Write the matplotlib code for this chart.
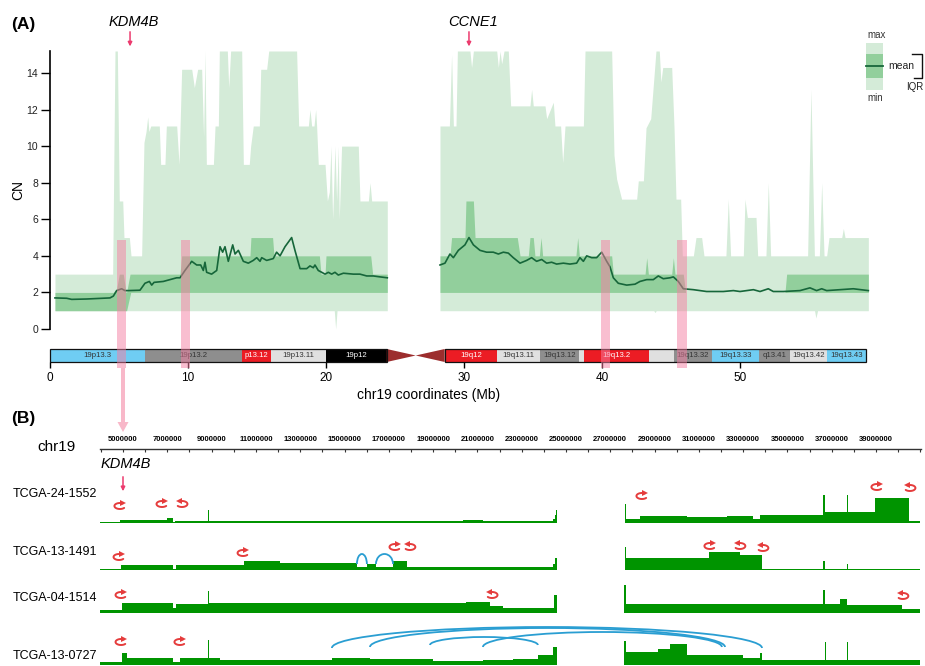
import numpy as np
import matplotlib
matplotlib.use('Agg')
import matplotlib.pyplot as plt
from matplotlib.patches import Rectangle, Polygon, Arc

plt.rcParams['font.family'] = ['Liberation Sans', 'DejaVu Sans']

# ---------------- Panel A data (Mb, CN) ----------------
MAXL_X = [0.36, 4.54, 4.71, 4.88, 5.02, 5.27, 5.36, 5.75, 5.87, 6.64, 6.81, 6.96, 7.08, 7.17, 7.30, 7.92, 8.02, 8.33, 8.43, 9.18,
          9.35, 9.54, 10.27, 10.46, 10.70, 10.99, 11.13, 11.23, 11.33, 11.84, 11.96, 12.20, 12.27, 12.85, 12.95, 13.09, 13.89, 14.01, 14.44, 14.54,
          14.73, 15.17, 15.27, 15.70, 15.85, 17.87, 18.02, 18.72, 18.84, 18.96, 19.13, 19.25, 19.32, 19.44, 19.93, 20.10, 20.24, 20.36, 20.48, 20.65,
          20.77, 20.89, 20.96, 21.13, 22.34, 22.46, 23.07, 23.19, 23.31, 24.44]
MAXL_Y = [3, 3, 15.2, 15.2, 7, 7, 5, 5, 4, 4, 10.2, 10.8, 11.6, 10.8, 11.1, 11.1, 9, 9, 11.1, 11.1,
          9, 14.2, 14.2, 13.2, 14.2, 14.2, 10.5, 15.2, 9, 9, 11.1, 11.1, 15.2, 15.2, 13.2, 15.2, 15.2, 9, 9, 10,
          11.1, 11.1, 14.2, 14.2, 15.2, 15.2, 11.1, 11.1, 12, 11.1, 11.1, 12, 11.1, 9, 9, 7, 7.5, 10, 6, 10,
          7, 10, 6, 10, 10, 7, 7, 8, 7, 7]
MINL_X = [0.36, 20.6, 20.7, 20.8, 24.44]
MINL_Y = [1, 1, 0, 1, 1]
Q3L_X = [0.36, 4.59, 4.83, 5.02, 5.31, 5.51, 5.55, 5.8, 9.42, 9.54, 14.49, 14.56, 16.13, 16.23, 19.52, 19.64, 19.93, 20.0, 23.24, 23.38, 24.44]
Q3L_Y = [2, 2, 2.2, 3, 3, 2, 2, 3, 3, 4, 4, 5, 5, 4, 4, 3, 3, 4, 4, 3, 3]
Q1L_X = [0.36, 5.55, 5.85, 24.44]
Q1L_Y = [1, 1, 2, 2]
MEANL_X = [0.36, 1.21, 1.57, 2.66, 4.35, 4.59, 4.83, 5.19, 5.43, 5.68, 6.52, 6.88, 7.2, 7.37, 7.54, 8.21, 9.18, 9.42, 9.78, 10.27,
           10.63, 10.92, 11.11, 11.23, 11.35, 11.71, 12.08, 12.32, 12.51, 12.68, 12.92, 13.24, 13.41, 13.65, 14.01, 14.37, 14.73, 14.98, 15.22, 15.34,
           15.7, 16.18, 16.42, 16.67, 17.03, 17.51, 17.75, 18.12, 18.6, 18.84, 19.08, 19.2, 19.44, 19.69, 19.93, 20.17, 20.41, 20.65, 20.89, 21.26,
           21.98, 22.46, 22.95, 23.43, 23.91, 24.44]
MEANL_Y = [1.7, 1.68, 1.62, 1.64, 1.7, 1.8, 2.1, 2.2, 2.1, 2.1, 2.12, 2.5, 2.6, 2.4, 2.55, 2.6, 2.8, 2.8, 3.2, 3.7,
           3.5, 3.5, 3.2, 3.65, 3.1, 3.0, 3.2, 4.5, 4.2, 4.5, 3.7, 4.6, 4.1, 4.3, 3.7, 3.6, 3.75, 3.9, 3.7, 3.9,
           3.75, 3.85, 4.2, 4.0, 4.5, 5.0, 4.3, 3.3, 3.3, 3.45, 3.35, 3.5, 3.2, 3.1, 3.0, 3.1, 3.0, 3.1, 2.95, 3.05,
           3.0, 3.0, 2.9, 2.9, 2.85, 2.8]

MAXR_X = [28.26, 28.94, 29.1, 29.23, 29.42, 29.52, 30.43, 30.55, 30.68, 32.37, 32.49, 32.61, 32.73, 32.9, 33.21, 33.38, 34.78, 34.9, 35.02, 35.87,
          35.99, 36.47, 36.59, 37.0, 37.15, 37.32, 38.65, 38.77, 40.7, 40.87, 41.06, 41.42, 42.51, 42.63, 43.0, 43.19, 43.53, 43.91, 44.15, 44.27,
          44.4, 45.05, 45.22, 45.36, 45.7, 45.82, 46.62, 46.81, 47.22, 47.39, 48.98, 49.15, 49.32, 50.24, 50.36, 50.53, 51.16, 51.28, 51.88, 52.05,
          52.22, 54.9, 55.14, 55.39, 55.75, 55.92, 56.09, 56.28, 56.45, 57.37, 57.49, 57.61, 59.3]
MAXR_Y = [11.1, 11.1, 15, 11.1, 11.1, 15.2, 15.2, 14.3, 15.2, 15.2, 14.3, 15.2, 14.5, 15.2, 15.2, 12.2, 12.2, 13.1, 12.2, 12.2,
          11.5, 12.4, 11.1, 11.1, 9.1, 11.1, 11.1, 15.2, 15.2, 9.5, 8.2, 7.1, 7.1, 8.1, 8.1, 11, 11.5, 15.2, 15.2, 13.5,
          14.3, 14.3, 11, 7.1, 7.1, 4, 4, 5, 5, 4, 4, 7.1, 4, 4, 7.1, 6.1, 6.1, 4, 4, 8,
          4, 4, 13.1, 4, 4, 8, 4, 4, 5, 5, 5.5, 5, 5]
MINR_X = [28.26, 43.75, 43.84, 43.93, 55.4, 55.5, 55.62, 59.3]
MINR_Y = [1, 1, 0.9, 1, 1, 0.6, 1, 1]
Q3R_X = [28.26, 28.98, 29.1, 30.07, 30.14, 30.68, 30.8, 33.86, 34.06, 34.66, 34.78, 35.02, 35.14, 35.46, 35.58, 35.7, 38.11, 38.24, 38.36, 40.7,
         40.82, 43.12, 43.24, 43.36, 45.05, 45.17, 45.29, 45.89, 46.06, 53.26, 53.38, 59.3]
Q3R_Y = [4, 4, 5, 5, 7, 7, 5, 5, 4, 4, 5, 5, 4, 4, 5, 4, 4, 5, 4, 4,
         3, 3, 3.9, 3, 3, 3.9, 3, 3, 2, 2, 3, 3]
Q1R_X = [28.26, 59.3]
Q1R_Y = [2, 2]
MEANR_X = [28.26, 28.62, 28.98, 29.23, 29.59, 30.07, 30.36, 30.68, 31.16, 31.64, 32.12, 32.49, 32.85, 33.21, 33.57, 34.06, 34.54, 34.9, 35.26, 35.63,
           35.99, 36.35, 36.71, 37.2, 37.68, 38.16, 38.4, 38.65, 38.89, 39.25, 39.61, 39.98, 40.34, 40.58, 40.82, 41.18, 41.79, 42.39, 42.75, 43.24,
           43.72, 44.08, 44.44, 44.93, 45.17, 45.53, 45.89, 46.62, 47.58, 48.79, 49.52, 50.0, 50.97, 51.45, 52.05, 52.41, 53.14, 54.35, 55.07, 55.55,
           55.92, 56.28, 57.25, 58.21, 59.3]
MEANR_Y = [3.5, 3.6, 4.1, 3.9, 4.3, 4.6, 5.0, 4.6, 4.3, 4.2, 4.2, 4.1, 4.2, 4.15, 3.9, 3.6, 3.75, 3.9, 3.7, 3.8,
           3.6, 3.65, 3.55, 3.6, 3.55, 3.6, 3.9, 3.7, 4.0, 3.9, 3.9, 4.2, 3.7, 3.4, 2.8, 2.5, 2.4, 2.45, 2.6, 2.7,
           2.7, 2.9, 2.75, 2.8, 2.85, 2.6, 2.2, 2.15, 2.05, 2.05, 2.1, 2.05, 2.15, 2.05, 2.2, 2.05, 2.05, 2.1, 2.25, 2.1,
           2.2, 2.1, 2.15, 2.2, 2.1]

# highlighted breakpoint regions (Mb)
BRK_START = [4.86, 9.49, 39.93, 45.43]
BRK_END = [5.50, 10.14, 40.58, 46.16]

GENES = ['KDM4B', 'CCNE1']
GENE_POS = [5.8, 30.36]

# chr19 cytobands (Mb)
BAND_NAME = ['19p13.3', '19p13.2', 'p13.12', '19p13.11', '19p12', '19q12', '19q13.11', '19q13.12', '',
             '19q13.2', '', '19q13.32', '19q13.33', 'q13.41', '19q13.42', '19q13.43']
BAND_START = [0, 6.9, 13.9, 16.0, 20.0, 28.6, 32.4, 35.5, 38.3, 38.7, 43.4, 45.2, 48.0, 51.4, 53.6, 56.3]
BAND_END = [6.9, 13.9, 16.0, 20.0, 24.4, 32.4, 35.5, 38.3, 38.7, 43.4, 45.2, 48.0, 51.4, 53.6, 56.3, 59.1]
BAND_STAIN = ['blue', 'gray', 'red', 'light', 'black', 'red', 'light', 'gray', 'light',
              'red', 'light', 'gray', 'blue', 'gray', 'light', 'blue']
CEN_START, CEN_MID, CEN_END = 24.4, 26.5, 28.6
P_ARM_END, CHR_END = 24.4, 59.1
IDEO_TICKS = [0, 10, 20, 30, 40, 50]

# ---------------- Panel B data (Mb breakpoints, coverage level) ----------------
SAMPLES = ['TCGA-24-1552', 'TCGA-13-1491', 'TCGA-04-1514', 'TCGA-13-0727']
T1_X = [3.96, 4.86, 6.97, 7.27, 7.34, 8.83, 8.88, 20.36, 21.27, 23.07, 24.43, 24.5, 24.55, 24.6, 27.66, 27.72, 28.34, 30.45,
        32.25, 33.46, 33.76, 36.62, 36.69, 37.67, 37.72, 38.97, 40.5, 40.98]
T1_Y = [1, 3.3, 5.5, 1, 2, 13, 1.7, 3.3, 1.7, 2.3, 4, 8, 13, 0, 19, 4, 6.7, 5.7,
        7.3, 4.3, 8, 28, 11, 28, 11, 25, 2, 2]
T2_X = [3.96, 4.9, 7.27, 7.39, 10.47, 12.08, 15.55, 16.0, 16.42, 17.2, 17.8, 20.48, 24.43, 24.5, 24.6, 27.66, 27.72,
        31.47, 32.85, 33.83, 36.62, 36.69, 37.67, 37.72, 40.98]
T2_Y = [0.7, 5, 1.5, 4.7, 9, 6.7, 2.7, 6, 3.3, 9.3, 3.3, 3, 6, 12, 0, 23, 12,
        18, 15, 1, 9, 1, 6, 1, 1]
T3_X = [3.96, 4.94, 7.27, 7.39, 8.83, 8.9, 20.48, 21.57, 22.17, 24.45, 24.6, 27.62, 27.7, 36.62, 36.69, 37.37, 37.67, 40.15, 40.98]
T3_Y = [2.7, 10, 5, 9.3, 21.7, 10, 11, 6.7, 5, 18, 0, 28, 9.3, 23, 9.3, 14, 8, 4, 4]
T4_X = [3.96, 4.94, 5.16, 7.27, 7.57, 8.83, 8.9, 9.38, 14.42, 16.15, 19.01, 20.51, 21.27, 22.62, 23.75, 24.43, 24.6,
        27.62, 27.7, 29.17, 29.69, 30.45, 33.0, 33.76, 33.83, 36.69, 36.75, 37.67, 37.72, 40.98]
T4_Y = [2.7, 12, 7, 2.7, 7, 24.7, 7, 4.7, 7, 6, 4.3, 3.7, 5.3, 6, 10, 18, 0,
        24, 13, 16, 21, 10, 7, 12, 4.7, 23, 4.7, 23, 4.7, 4.7]

# red rearrangement glyphs per track: position (Mb), height, orientation
SYM_POS = [[4.86, 6.76, 7.66, 28.43, 39.04, 40.53],
           [4.82, 10.42, 17.28, 17.95, 31.5, 32.85, 33.89],
           [4.91, 21.66, 40.21],
           [4.91, 7.57]]
SYM_Y = [[17, 19, 19, 27, 36, 35],
         [13, 17, 23, 23, 24, 24, 22],
         [18, 18, 17],
         [23, 23]]
SYM_KIND = [['C', 'C', 'D', 'C', 'C', 'D'],
            ['C', 'C', 'C', 'D', 'C', 'D', 'D'],
            ['C', 'D', 'D'],
            ['C', 'C']]
# blue SV links per track: start, end (Mb), base, peak
LINKS = [[],
         [(15.56, 16.01, 6, 16), (16.42, 17.19, 6, 16)],
         [],
         [(14.43, 33.85, 17, 38), (16.15, 32.18, 18, 37), (18.86, 23.73, 20, 28), (21.25, 32.04, 18, 33)]]
RULER_MAJOR = list(range(5000000, 40000000, 2000000))

# ---------------- styling ----------------
W, H = 925, 666
C_LIGHT = '#d4ebd8'
C_IQR = '#92cf9c'
C_MEAN = '#16663a'
C_PINK = '#f57fa2'
C_GENE = '#ec3b6e'
C_RED = '#e53c3c'
C_BLUE = '#2a9ed2'
C_COV = '#009400'
STAIN_COL = {'blue': '#6fcdf3', 'gray': '#8e8e8e', 'red': '#ec1c24', 'light': '#e0e0e0', 'black': '#000000'}
STAIN_TXT = {'blue': '#333333', 'gray': '#333333', 'red': '#ffffff', 'light': '#333333', 'black': '#ffffff'}

fig = plt.figure(figsize=(W / 100, H / 100), dpi=100)


def box(x0, y0, x1, y1):
    return [x0 / W, 1 - y1 / H, (x1 - x0) / W, (y1 - y0) / H]


def fill_env(ax, xa, ya, xb, yb, color):
    x = np.union1d(xa, xb)
    ax.fill_between(x, np.interp(x, xa, ya), np.interp(x, xb, yb), color=color, lw=0)


XLIM_A = (0, 59.42)

# ---- Panel A: CN ----
ax = fig.add_axes(box(50, 51, 870, 329))
ax.set_xlim(*XLIM_A)
ax.set_ylim(0, 15.2)
for (mnx, mny, mxx, mxy, q1x, q1y, q3x, q3y, mx, my) in [
        (MINL_X, MINL_Y, MAXL_X, MAXL_Y, Q1L_X, Q1L_Y, Q3L_X, Q3L_Y, MEANL_X, MEANL_Y),
        (MINR_X, MINR_Y, MAXR_X, MAXR_Y, Q1R_X, Q1R_Y, Q3R_X, Q3R_Y, MEANR_X, MEANR_Y)]:
    fill_env(ax, mnx, mny, mxx, mxy, C_LIGHT)
    fill_env(ax, q1x, q1y, q3x, q3y, C_IQR)
    ax.plot(mx, my, color=C_MEAN, lw=1.2)
for s, e in zip(BRK_START, BRK_END):
    ax.add_patch(Rectangle((s, -2.13), e - s, 6.98, facecolor=C_PINK, alpha=0.5, lw=0,
                           clip_on=False, zorder=5))
for sp in ['top', 'right', 'bottom']:
    ax.spines[sp].set_visible(False)
ax.spines['left'].set_linewidth(1.2)
ax.set_xticks([])
ax.set_yticks(range(0, 15, 2))
ax.tick_params(axis='y', length=6.5, width=1, labelsize=7.5, pad=2, labelcolor='#222222')
ax.set_ylabel('CN', fontsize=10)
ax.yaxis.set_label_coords(-0.030, 0.5)
for g, p in zip(GENES, GENE_POS):
    ax.annotate('', xy=(p, 15.45), xytext=(p, 16.25), annotation_clip=False,
                arrowprops=dict(arrowstyle='-|>', color=C_GENE, lw=1.1, mutation_scale=6,
                                shrinkA=0, shrinkB=0))
    ax.text(p + 0.3, 16.8, g, ha='center', va='center', fontsize=10.5, style='italic',
            clip_on=False)
ax.set_zorder(3)
ax.patch.set_visible(False)

# ---- Ideogram ----
axi = fig.add_axes(box(50, 349, 870, 362))
axi.set_zorder(1)
axi.set_xlim(*XLIM_A)
axi.set_ylim(0, 1)
for n, s, e, st in zip(BAND_NAME, BAND_START, BAND_END, BAND_STAIN):
    axi.add_patch(Rectangle((s, 0), e - s, 1, facecolor=STAIN_COL[st], lw=0))
    if n:
        axi.text((s + e) / 2, 0.5, n, ha='center', va='center', fontsize=5.6, color=STAIN_TXT[st])
axi.add_patch(Polygon([(CEN_START, 0), (CEN_START, 1), (CEN_MID, 0.5)], closed=True,
                      facecolor='#9c2d2d', lw=0))
axi.add_patch(Polygon([(CEN_END, 0), (CEN_END, 1), (CEN_MID, 0.5)], closed=True,
                      facecolor='#9c2d2d', lw=0))
axi.add_patch(Rectangle((0, 0), P_ARM_END, 1, fill=False, lw=0.9, edgecolor='#111111', clip_on=False))
axi.add_patch(Rectangle((CEN_END, 0), CHR_END - CEN_END, 1, fill=False, lw=0.9, edgecolor='#111111',
                        clip_on=False))
for sp in axi.spines.values():
    sp.set_visible(False)
axi.set_yticks([])
axi.set_xticks(IDEO_TICKS)
axi.tick_params(axis='x', length=4.5, width=1, labelsize=8.5, pad=3)
fig.text(429 / W, 1 - 395 / H, 'chr19 coordinates (Mb)', ha='center', va='center', fontsize=10)

# ---- Legend ----
axl = fig.add_axes(box(855, 25, 925, 105))
axl.set_xlim(855, 925)
axl.set_ylim(105, 25)
axl.axis('off')
axl.add_patch(Rectangle((866, 43), 17, 47, facecolor=C_LIGHT, lw=0))
axl.add_patch(Rectangle((866, 54), 17, 24, facecolor=C_IQR, lw=0))
axl.plot([866, 883], [66, 66], color=C_MEAN, lw=1.3)
axl.text(867, 35, 'max', fontsize=7, va='center', ha='left', color='#333333')
axl.text(867, 98, 'min', fontsize=7, va='center', ha='left', color='#333333')
axl.text(888, 66, 'mean', fontsize=7.5, va='center', ha='left', color='#222222')
axl.plot([912, 922, 922, 914], [54, 54, 78, 78], color='#111111', lw=1, clip_on=False)
axl.text(923, 87, 'IQR', fontsize=7, va='center', ha='right', color='#222222', clip_on=False)

# ---- Panel labels & connecting arrow ----
fig.text(11 / W, 1 - 25 / H, '(A)', fontsize=12.5, fontweight='bold', va='center', ha='left')
fig.text(11 / W, 1 - 419 / H, '(B)', fontsize=12.5, fontweight='bold', va='center', ha='left')
fig.patches.append(Rectangle((121 / W, 1 - 424 / H), 4 / W, 56 / H, transform=fig.transFigure,
                             facecolor='#f8b8c9', lw=0))
fig.patches.append(Polygon([(117.5 / W, 1 - 422 / H), (128.5 / W, 1 - 422 / H), (123 / W, 1 - 432 / H)],
                           closed=True, transform=fig.transFigure, facecolor='#f8b8c9', lw=0))

# ---- Panel B ruler ----
XLIM_B = (3.96e6, 41.03e6)
axr = fig.add_axes(box(100, 448, 921, 449))
axr.set_xlim(*XLIM_B)
axr.set_ylim(0, 1)
for sp in ['top', 'left', 'right']:
    axr.spines[sp].set_visible(False)
axr.spines['bottom'].set_linewidth(1)
axr.spines['bottom'].set_color('#333333')
axr.set_yticks([])
axr.set_xticks(RULER_MAJOR, labels=[str(v) for v in RULER_MAJOR], fontsize=5.5, fontweight='bold')
axr.set_xticks(list(range(4000000, 41000001, 1000000)), minor=True)
axr.tick_params(axis='x', which='both', bottom=True, top=False, labelbottom=False, labeltop=True,
                direction='out', length=2.5, width=0.8, pad=1, color='#333333')
fig.text(37 / W, 1 - 447 / H, 'chr19', fontsize=11, va='center', ha='left')

# KDM4B marker in panel B
fig.text(126 / W, 1 - 464 / H, 'KDM4B', fontsize=10.5, style='italic', va='center', ha='center')
fig.add_artist(matplotlib.patches.FancyArrowPatch((123 / W, 1 - 474 / H), (123 / W, 1 - 494 / H),
                                                  transform=fig.transFigure, arrowstyle='-|>',
                                                  color=C_GENE, lw=1.1, mutation_scale=6))

# ---- Panel B tracks ----
BASELINES = [523, 570, 613, 665]
TRACK_X = [T1_X, T2_X, T3_X, T4_X]
TRACK_Y = [T1_Y, T2_Y, T3_Y, T4_Y]
A_MB = 5.5 / 22.15
for i, name in enumerate(SAMPLES):
    base = BASELINES[i]
    axt = fig.add_axes(box(100, base - 45, 921, base))
    axt.set_xlim(*XLIM_B)
    axt.set_ylim(0, 45)
    axt.axis('off')
    x = np.array(TRACK_X[i]) * 1e6
    axt.fill_between(x, 0, TRACK_Y[i], step='post', color=C_COV, lw=0)
    for (s, e, b0, pk) in LINKS[i]:
        axt.add_patch(Arc(((s + e) / 2 * 1e6, b0), (e - s) * 1e6, 2 * (pk - b0), theta1=0, theta2=180,
                          color=C_BLUE, lw=1.3, clip_on=False))
    for p, yy, k in zip(SYM_POS[i], SYM_Y[i], SYM_KIND[i]):
        if k == 'C':
            t = np.radians(np.linspace(60, 320, 40))
            mk = '>'
        else:
            t = np.radians(np.linspace(120, -140, 40))
            mk = '<'
        xs = (p + A_MB * np.cos(t)) * 1e6
        ys = yy + 3.0 * np.sin(t)
        axt.plot(xs, ys, color=C_RED, lw=1.4, clip_on=False, solid_capstyle='round')
        axt.plot([xs[0]], [ys[0]], marker=mk, ms=3.8, color=C_RED, mew=0, clip_on=False)
    fig.text(13 / W, 1 - [494, 552, 598, 656][i] / H, name, fontsize=9, va='center', ha='left')

fig.savefig('out.png', dpi=100)
